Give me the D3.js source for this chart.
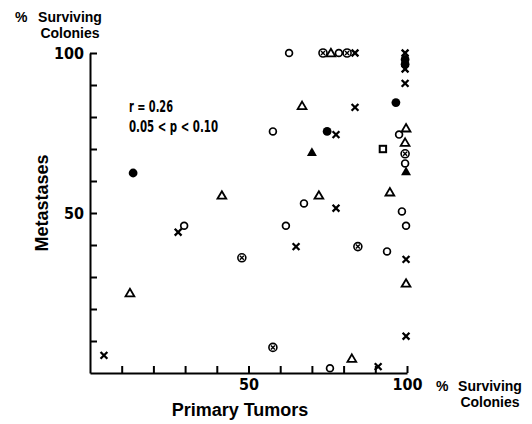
<!DOCTYPE html>
<html>
<head>
<meta charset="utf-8">
<script src="https://cdn.jsdelivr.net/npm/d3@7"></script>
<style>
  body { margin: 0; background: #fff; }
  text { fill: #000; }
</style>
</head>
<body>
<div id="container"></div>
<script>
// values: [primary tumor %, metastases %]
const openCircles = [[62.8, 100], [78.5, 100], [57.7, 75.5], [97.5, 74.5], [99.4, 65.5], [67.5, 53],
    [98.4, 50.5], [99.7, 46], [29.7, 46], [61.8, 46], [93.7, 38], [75.7, 1.5]];
const filledCircles = [[99.4, 98], [99.4, 96.5], [96.5, 84.5], [74.8, 75.5], [13.6, 62.5]];
const openTriangles = [[76.0, 100], [66.9, 83.5], [99.7, 76.5], [99.4, 72], [94.6, 56.5], [41.6, 55.5],
    [72.2, 55.5], [99.7, 28], [12.6, 25], [82.6, 4.5]];
const filledTriangles = [[99.7, 63], [70.0, 69]];
const crosses = [[83.6, 100], [99.4, 100], [99.4, 95], [99.4, 90.5], [83.6, 83], [77.6, 74.5],
    [77.6, 51.5], [27.8, 44], [65.0, 39.5], [99.7, 35.5], [99.7, 11.5], [4.4, 5.5], [90.9, 2]];
const circledCrosses = [[73.5, 100], [81.1, 100], [99.4, 68.5], [84.5, 39.5], [47.9, 36], [57.7, 8]];
const squares = [[92.4, 70]];

const tickValues = [10, 20, 30, 40, 50, 60, 70, 80, 90, 100];
const labeledTicks = [50, 100];

const width = 532;
const height = 424;
const marginTop = 53;
const marginRight = 125;
const marginBottom = 51;
const marginLeft = 90;

const x = d3.scaleLinear([0, 100], [marginLeft, width - marginRight]);
const y = d3.scaleLinear([0, 100], [height - marginBottom, marginTop]);

const svg = d3.create("svg")
    .attr("width", width)
    .attr("height", height)
    .attr("viewBox", [0, 0, width, height])
    .attr("font-family", "Liberation Sans, Arial, sans-serif");

const tickFont = "Liberation Sans Narrow, DejaVu Sans Condensed, sans-serif";
const fmt = d => labeledTicks.includes(d) ? d : "";

// x-axis, ticks pointing up into the plot
svg.append("g")
    .attr("transform", `translate(0,${y(0)})`)
    .call(d3.axisBottom(x).tickValues(tickValues).tickFormat(fmt).tickSize(-7).tickSizeOuter(0).tickPadding(6))
    .call(g => g.select(".domain").attr("stroke-width", 2))
    .call(g => g.selectAll(".tick line").attr("stroke-width", 2))
    .call(g => g.selectAll(".tick text")
        .attr("font-family", tickFont).attr("font-weight", "bold").attr("font-size", 16));

// y-axis, ticks pointing right into the plot
svg.append("g")
    .attr("transform", `translate(${x(0)},0)`)
    .call(d3.axisLeft(y).tickValues(tickValues).tickFormat(fmt).tickSize(-7).tickSizeOuter(0).tickPadding(6))
    .call(g => g.select(".domain").attr("stroke-width", 2))
    .call(g => g.selectAll(".tick line").attr("stroke-width", 2))
    .call(g => g.selectAll(".tick text")
        .attr("font-family", tickFont).attr("font-weight", "bold").attr("font-size", 16));

// unit labels
function unitLabel(cx, yTop, pctX) {
    const g = svg.append("g").attr("font-weight", "bold").attr("font-size", 14);
    g.append("text").attr("x", pctX).attr("y", yTop).text("%");
    g.append("text").attr("x", cx).attr("y", yTop).attr("text-anchor", "middle").text("Surviving");
    g.append("text").attr("x", cx).attr("y", yTop + 16).attr("text-anchor", "middle").text("Colonies");
}
unitLabel(70, 22, 15);
unitLabel(490, 391, 436);

svg.append("text")
    .attr("x", 240).attr("y", 416)
    .attr("text-anchor", "middle")
    .attr("font-weight", "bold").attr("font-size", 18)
    .text("Primary Tumors");

svg.append("text")
    .attr("transform", `translate(48,${y(50) - 10}) rotate(-90)`)
    .attr("text-anchor", "middle")
    .attr("font-weight", "bold").attr("font-size", 18)
    .text("Metastases");

// stats annotation
svg.append("text")
    .attr("x", 129).attr("y", 112)
    .attr("font-family", tickFont).attr("font-weight", "bold").attr("font-size", 15)
    .attr("textLength", 44).attr("lengthAdjust", "spacingAndGlyphs")
    .text("r = 0.26");
svg.append("text")
    .attr("x", 129).attr("y", 132)
    .attr("font-family", tickFont).attr("font-weight", "bold").attr("font-size", 15)
    .attr("textLength", 89).attr("lengthAdjust", "spacingAndGlyphs")
    .text("0.05 < p < 0.10");

// markers
const plot = svg.append("g");

function place(data) {
    return plot.append("g").selectAll("g")
        .data(data)
        .join("g")
        .attr("transform", d => `translate(${x(d[0])},${y(d[1])})`);
}

place(openCircles).append("circle")
    .attr("r", 3.4).attr("fill", "#fff").attr("stroke", "#000").attr("stroke-width", 1.7);

place(filledCircles).append("circle")
    .attr("r", 4.4).attr("fill", "#000");

const tri = "M0,-4.2L4.4,3.3L-4.4,3.3Z";
place(openTriangles).append("path")
    .attr("d", tri).attr("fill", "#fff").attr("stroke", "#000").attr("stroke-width", 1.8)
    .attr("stroke-linejoin", "miter");

place(filledTriangles).append("path")
    .attr("d", "M0,-5L5,3.8L-5,3.8Z").attr("fill", "#000");

place(crosses).append("path")
    .attr("d", "M-3.4,-3.4L3.4,3.4M3.4,-3.4L-3.4,3.4")
    .attr("stroke", "#000").attr("stroke-width", 2.3);

const oc = place(circledCrosses);
oc.append("circle")
    .attr("r", 4).attr("fill", "#fff").attr("stroke", "#000").attr("stroke-width", 1.6);
oc.append("path")
    .attr("d", "M-2,-2L2,2M2,-2L-2,2")
    .attr("stroke", "#000").attr("stroke-width", 1.4);

place(squares).append("rect")
    .attr("x", -3.2).attr("y", -3.2).attr("width", 6.4).attr("height", 6.4)
    .attr("fill", "#fff").attr("stroke", "#000").attr("stroke-width", 2);

document.getElementById("container").append(svg.node());
</script>
</body>
</html>
